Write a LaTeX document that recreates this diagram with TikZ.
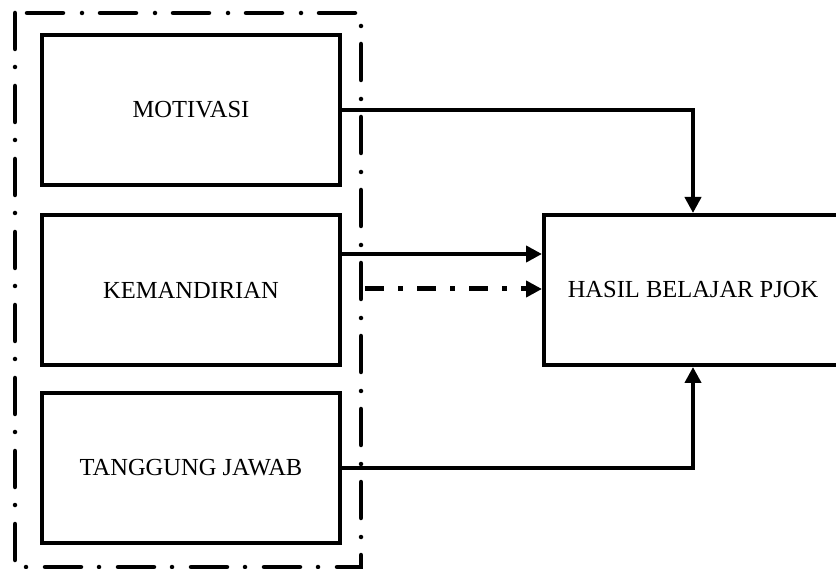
\documentclass[tikz,border=0pt]{standalone}
\usepackage{fontspec}
\setmainfont{Liberation Serif}
\usetikzlibrary{arrows.meta}
\begin{document}
\begin{tikzpicture}[x=1pt,y=-1pt,
    box/.style={draw,line width=4pt,minimum width=298pt,minimum height=150pt,
      font=\fontsize{24.5}{28}\selectfont,inner sep=0pt},
    arr/.style={line width=4pt,-{Triangle[length=16pt,width=16pt]}},
    frame/.style={line width=4.5pt,line cap=round,
      dash pattern=on 36pt off 18pt on 0pt off 19pt}]
      \useasboundingbox (0,0) rectangle (836,569);
      \node[box] (motivasi) at (191,110) {MOTIVASI};
      \node[box] (kemandirian) at (191,290.5) {KEMANDIRIAN};
      \node[box] (tanggung) at (191,468) {TANGGUNG JAWAB};
      \node[box] (hasil) at (693,290) {HASIL BELAJAR PJOK};
      % \draw[help lines,step=50] (0,0) grid (836,569);
      \draw[frame] (15,13) rectangle (361,567);

      \coordinate (k1) at (kemandirian.east |- 0,254);
      \coordinate (k2) at (365,289);
      \draw[arr] (motivasi.east) -| (hasil.north);
      \draw[arr] (k1) -- (k1 -| hasil.west);
      \draw[arr,line width=5pt,dash pattern=on 19pt off 14pt on 5pt off 14pt] (k2)
      -- (k2 -| hasil.west);
      \draw[arr] (tanggung.east) -| (hasil.south);
    \end{tikzpicture}
\end{document}
